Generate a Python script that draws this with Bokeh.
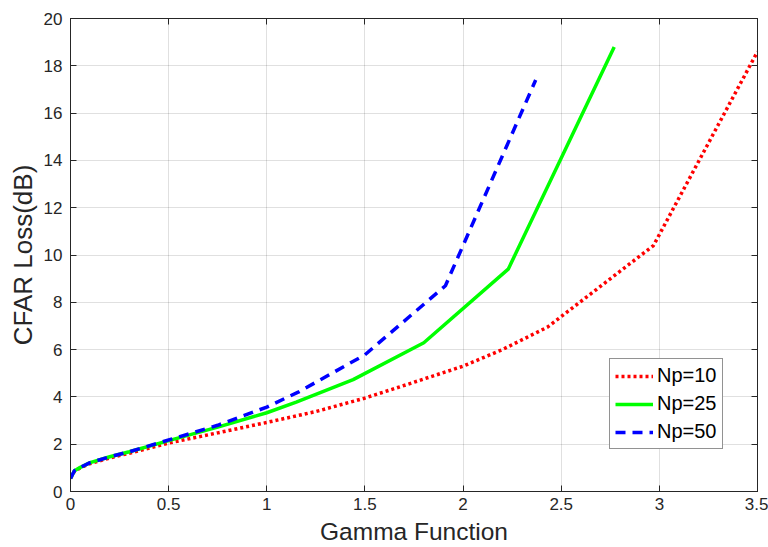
from bokeh.plotting import figure
from bokeh.models import Range1d, LinearAxis, Legend, LegendItem, FixedTicker
from bokeh.embed import file_html
from bokeh.resources import INLINE

# Data
x_np10 = [0, 0.02, 0.05, 0.1, 0.2, 0.3, 0.5, 0.75, 1.0, 1.25, 1.5, 1.68, 2.0, 2.2, 2.43, 2.97, 3.5]
y_np10 = [0.55, 0.85, 1.0, 1.18, 1.42, 1.62, 2.05, 2.48, 2.92, 3.38, 3.95, 4.43, 5.3, 6.0, 6.95, 10.4, 18.6]

x_np25 = [0, 0.02, 0.05, 0.1, 0.2, 0.3, 0.5, 0.75, 1.0, 1.15, 1.44, 1.8, 2.23, 2.77]
y_np25 = [0.55, 0.88, 1.02, 1.22, 1.47, 1.68, 2.15, 2.72, 3.33, 3.78, 4.73, 6.29, 9.4, 18.8]

x_np50 = [0, 0.02, 0.05, 0.1, 0.2, 0.3, 0.5, 0.75, 1.0, 1.16, 1.5, 1.91, 2.37]
y_np50 = [0.55, 0.88, 1.02, 1.22, 1.47, 1.68, 2.18, 2.8, 3.57, 4.2, 5.78, 8.7, 17.4]

x_ticks = [0, 0.5, 1, 1.5, 2, 2.5, 3, 3.5]
y_ticks = [0, 2, 4, 6, 8, 10, 12, 14, 16, 18, 20]
legend_labels = ["Np=10", "Np=25", "Np=50"]

FONT = "Liberation Sans"
TICK_COLOR = "#262626"

p = figure(width=768, height=547, output_backend="svg", toolbar_location=None,
           x_range=Range1d(0, 3.5), y_range=Range1d(0, 20),
           min_border_left=70, min_border_right=11, min_border_top=18, min_border_bottom=55)
p.outline_line_color = "#262626"
p.outline_line_width = 1
p.outline_line_alpha = 1.0

xa_bottom = p.below[0]
ya_left = p.left[0]

def style_axis(ax, show_labels=True):
    ax.axis_line_color = "#262626"
    ax.axis_line_width = 1
    ax.major_tick_in = 6
    ax.major_tick_out = 0
    ax.minor_tick_in = 0
    ax.minor_tick_out = 0
    ax.major_tick_line_color = "#262626"
    ax.major_label_text_font = FONT
    ax.major_label_text_font_size = "17px"
    ax.major_label_text_color = TICK_COLOR
    if not show_labels:
        ax.major_label_text_alpha = 0
        ax.major_label_text_font_size = "0px"
        ax.major_label_standoff = 0

xa_bottom.ticker = FixedTicker(ticks=x_ticks)
ya_left.ticker = FixedTicker(ticks=y_ticks)
xa_bottom.major_label_overrides = {0: "0", 1: "1", 2: "2", 3: "3"}
style_axis(xa_bottom)
style_axis(ya_left)
xa_bottom.major_label_standoff = 6
ya_left.major_label_standoff = 8

xa_top = LinearAxis(ticker=FixedTicker(ticks=x_ticks))
style_axis(xa_top, False)
p.add_layout(xa_top, "above")
ya_right = LinearAxis(ticker=FixedTicker(ticks=y_ticks))
style_axis(ya_right, False)
p.add_layout(ya_right, "right")

xa_bottom.axis_label = "Gamma Function"
ya_left.axis_label = "CFAR Loss(dB)"
for ax in (xa_bottom, ya_left):
    ax.axis_label_text_font = FONT
    ax.axis_label_text_font_style = "normal"
    ax.axis_label_text_color = TICK_COLOR
xa_bottom.axis_label_text_font_size = "24.5px"
ya_left.axis_label_text_font_size = "26px"
xa_bottom.axis_label_standoff = 5
ya_left.axis_label_standoff = 3

p.xgrid.ticker = FixedTicker(ticks=x_ticks)
p.ygrid.ticker = FixedTicker(ticks=y_ticks)
for g in (p.xgrid[0], p.ygrid[0]):
    g.grid_line_color = "#000000"
    g.grid_line_alpha = 0.12
    g.grid_line_width = 1

r1 = p.line(x_np10, y_np10, line_color="#ff0000", line_width=3.5, line_dash="3 3")
r2 = p.line(x_np25, y_np25, line_color="#00ff00", line_width=3.5)
r3 = p.line(x_np50, y_np50, line_color="#0000ff", line_width=3.5, line_dash="10 7")

legend = Legend(items=[LegendItem(label=legend_labels[0], renderers=[r1]),
                       LegendItem(label=legend_labels[1], renderers=[r2]),
                       LegendItem(label=legend_labels[2], renderers=[r3])],
                location=(539, 42))
legend.label_text_font = FONT
legend.label_text_font_size = "20px"
legend.label_text_color = "#000000"
legend.glyph_width = 38
legend.glyph_height = 22
legend.label_standoff = 4
legend.spacing = 5
legend.padding = 5
legend.margin = 0
legend.border_line_color = "#262626"
legend.border_line_width = 1
legend.background_fill_color = "white"
legend.background_fill_alpha = 1
p.add_layout(legend, "center")

open("out.html", "w").write(file_html(p, INLINE))
